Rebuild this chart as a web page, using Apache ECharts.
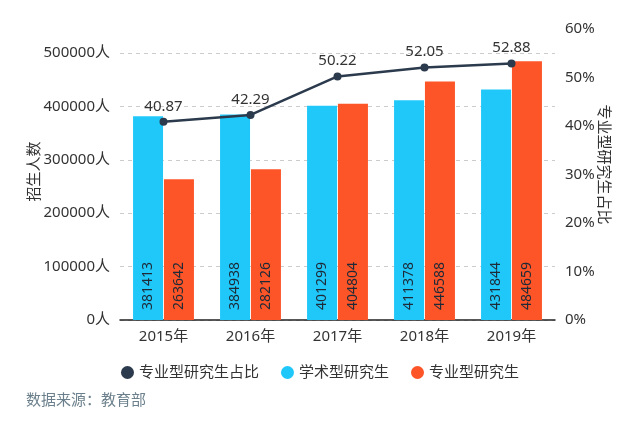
<!DOCTYPE html>
<html>
<head>
<meta charset="utf-8">
<script src="https://cdn.jsdelivr.net/npm/echarts@6/dist/echarts.min.js"></script>
<style>
html,body{margin:0;padding:0;background:#fff;}
#chart{width:640px;height:430px;}
</style>
</head>
<body>
<div id="chart"></div>
<script>
const categories = ['2015年', '2016年', '2017年', '2018年', '2019年'];
const academic = [381413, 384938, 401299, 411378, 431844];
const professional = [263642, 282126, 404804, 446588, 484659];
const professionalShare = [40.87, 42.29, 50.22, 52.05, 52.88];
const legendNames = ['专业型研究生占比', '学术型研究生', '专业型研究生'];
const sourceText = '数据来源：教育部';

const FONT = '"Noto Sans", "Noto Sans CJK SC", sans-serif';
const chart = echarts.init(document.getElementById('chart'), null, {renderer: 'canvas'});

const barLabel = {
  show: true,
  position: 'insideBottom',
  rotate: 90,
  align: 'left',
  verticalAlign: 'middle',
  distance: 10,
  color: '#1e2a38',
  fontSize: 14,
  fontFamily: FONT
};

chart.setOption({
  animation: false,
  textStyle: {fontFamily: FONT},
  grid: {left: 120, right: 85, top: 29, bottom: 110},
  legend: {
    data: legendNames,
    top: 360,
    left: 'center',
    icon: 'circle',
    itemWidth: 13,
    itemHeight: 13,
    itemGap: 22,
    textStyle: {fontSize: 15, color: '#333', fontFamily: FONT}
  },
  graphic: [{
    type: 'text',
    left: 26,
    top: 393,
    style: {text: sourceText, fontSize: 15, fill: '#6b808c', fontFamily: FONT}
  }],
  xAxis: {
    type: 'category',
    data: categories,
    axisLine: {lineStyle: {color: '#222', width: 1.5}},
    axisTick: {alignWithLabel: true, length: 5, lineStyle: {color: '#222'}},
    axisLabel: {fontSize: 15, color: '#333', margin: 9, fontFamily: FONT}
  },
  yAxis: [{
    type: 'value',
    min: 0,
    max: 545000,
    interval: 100000,
    name: '招生人数',
    nameLocation: 'middle',
    nameMoveOverlap: false,
    nameGap: 78,
    nameTextStyle: {fontSize: 15, color: '#333', fontFamily: FONT, padding: [0, 0, 0, 6]},
    axisLine: {show: false},
    axisTick: {show: false},
    axisLabel: {formatter: function (v) { return v + '人'; }, fontSize: 15, color: '#333', margin: 10, showMaxLabel: false, fontFamily: FONT},
    splitLine: {show: true, showMaxLine: false, lineStyle: {type: [4, 4], color: '#ccc'}}
  }, {
    type: 'value',
    min: 0,
    max: 60,
    interval: 10,
    name: '专业型研究生占比',
    nameLocation: 'middle',
    nameMoveOverlap: false,
    nameRotate: -90,
    nameGap: 41,
    nameTextStyle: {fontSize: 15, color: '#333', fontFamily: FONT, padding: [0, 20, 0, 0]},
    axisLine: {show: false},
    axisTick: {show: false},
    axisLabel: {formatter: function (v) { return v + '%'; }, fontSize: 15, color: '#333', margin: 10, fontFamily: FONT},
    splitLine: {show: false}
  }],
  series: [{
    name: legendNames[1],
    type: 'bar',
    data: academic,
    barWidth: 30,
    barGap: '3%',
    itemStyle: {color: '#20c8fa'},
    label: barLabel
  }, {
    name: legendNames[2],
    type: 'bar',
    data: professional,
    barWidth: 30,
    itemStyle: {color: '#fd5527'},
    label: barLabel
  }, {
    name: legendNames[0],
    type: 'line',
    yAxisIndex: 1,
    data: professionalShare,
    symbol: 'circle',
    symbolSize: 8,
    lineStyle: {color: '#2b3a4c', width: 2.5},
    itemStyle: {color: '#2b3a4c'},
    label: {show: true, position: 'top', fontSize: 15, color: '#333', distance: 4, fontFamily: FONT},
    z: 5
  }]
});
</script>
</body>
</html>
